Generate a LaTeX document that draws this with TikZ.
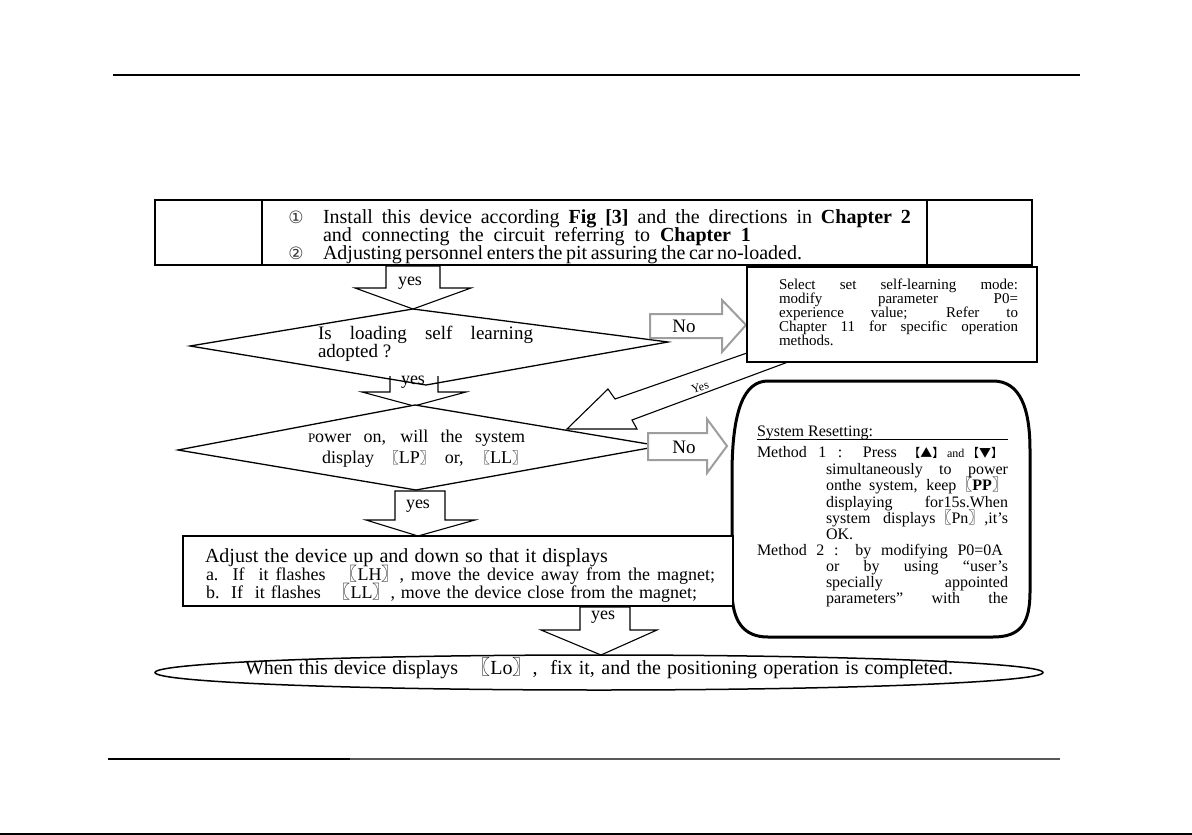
\documentclass[tikz,border=0pt]{standalone}
\usepackage{fontspec}
\setmainfont{Liberation Serif}
\newfontfamily\cjk{Noto Sans CJK SC}
\newfontfamily\dejavu{DejaVu Sans}
\newcommand\myfs[2]{\fontsize{#1}{#2}\selectfont}
\newcommand\jl[2]{\makebox[#1pt][s]{#2}}
\newcommand\lbk{{\cjk 〖}}
\newcommand\rbk{{\cjk 〗}}
\begin{document}
\begin{tikzpicture}[x=1pt,y=-1pt,
  every node/.style={inner sep=0pt,outer sep=0pt},
  tl/.style={anchor=base west},
  tc/.style={anchor=base},
  lab/.style={font=\myfs{18}{18}},
  boxln/.style={draw=black,line width=1.5pt,fill=white},
  barrow/.style={draw=black,line width=1.1pt,fill=white,line join=miter},
  oarrow/.style={draw=black,line width=1.1pt,line join=miter},
  garrow/.style={draw=black!38,line width=2pt,fill=white,line join=miter},
  dia/.style={draw=black,line width=1.3pt,fill=white,line join=miter}]

\useasboundingbox (0,0) rectangle (1192,835);
\fill[white] (0,0) rectangle (1192,835);

% page rules
\coordinate (hl) at (113,75); \coordinate (hr) at (1080,75);
\draw[line width=2pt] (hl) -- (hr);
\coordinate (fl) at (108,759); \coordinate (fm) at (350,759); \coordinate (fr) at (1060,759);
\draw[line width=2.5pt] (fl) -- (fm);
\draw[line width=2.5pt,black!65] (fm) -- (fr);
\coordinate (bl) at (0,834); \coordinate (br) at (1192,834);
\draw[line width=2pt] (bl) -- (br);

% top box
\draw[boxln] (155,200) rectangle (1032,265);
\coordinate (d1a) at (262,200); \coordinate (d1b) at (262,265);
\coordinate (d2a) at (927,200); \coordinate (d2b) at (927,265);
\draw[line width=1.5pt] (d1a) -- (d1b) (d2a) -- (d2b);
\begin{scope}
\clip (156,201) rectangle (1031,264);
\node[tl,font=\myfs{20}{20}] (t1) at (323,223) {\jl{588}{Install this device according \textbf{Fig [3]} and the directions in \textbf{Chapter 2}}};
\node[tl,font=\myfs{20}{20}] (t2) at (323,241) {\jl{428}{and connecting the circuit referring to \textbf{Chapter 1}}};
\node[tl,font=\myfs{20}{20}] (t3) at (323,259) {\jl{479}{Adjusting personnel enters the pit assuring the car no-loaded.}};
\node[font=\dejavu\myfs{17}{17},text=black!80] (c1) at (296,217) {①};
\node[font=\dejavu\myfs{17}{17},text=black!80] (c2) at (296,253) {②};
\end{scope}

% yes arrow 1
\draw[barrow] (386,266) -- (386,288) -- (355,288) -- (413,309) -- (471,288) -- (440,288) -- (440,266) -- cycle;
\node[lab] (y1) at (410,283) {yes};

% diamond 1
\draw[dia] (413,309) -- (668,342) -- (426,385) -- (190,346) -- cycle;
\node[tl,font=\myfs{19}{19}] (q1a) at (318,339) {\jl{215}{Is loading self learning}};
\node[tl,font=\myfs{19}{19}] (q1b) at (318,357) {adopted ?};

% yes arrow 2 (open top, over diamond 1)
\draw[oarrow] (390,376) -- (390,392) -- (362,392) -- (414,406) -- (466,392) -- (438,392) -- (438,376);
\node[lab] (y2) at (413,382) {yes};

% yes arrow 3
\draw[barrow] (395,491) -- (395,520) -- (366,520) -- (418,536) -- (475,520) -- (445,520) -- (445,491) -- cycle;
\node[lab] (y3) at (418,506) {yes};

% diamond 2
\draw[dia] (415,405) -- (660,446) -- (416,490) -- (178,450) -- cycle;
\node[tl,font=\myfs{18}{18}] (q2a) at (308,442) {\jl{217}{{\myfs{13}{13}P}ower on, will the system}};
\node[tl,font=\myfs{18}{18}] (q2b) at (322,463) {\jl{205}{display {\myfs{15}{15}\lbk}LP{\myfs{15}{15}\rbk}\ or, {\myfs{15}{15}\lbk}LL{\myfs{15}{15}\rbk}}};

% No arrows
\draw[garrow] (650,314) -- (722,314) -- (722,300) -- (746,325) -- (722,352) -- (722,338) -- (650,338) -- cycle;
\node[font=\myfs{19}{19}] (n1) at (684,326) {No};
\draw[garrow] (648,433) -- (707,433) -- (707,419) -- (727,446) -- (707,473) -- (707,460) -- (648,460) -- cycle;
\node[font=\myfs{19}{19}] (n2) at (684,447) {No};

% diagonal Yes arrow
\draw[barrow] (747,353) -- (615,399) -- (608,389) -- (567,429) -- (637,429) -- (632,420) -- (788,362) -- cycle;
\node[font=\myfs{12}{12},rotate=17] (ydiag) at (700,387) {Yes};

% select box
\draw[boxln] (747,267) rectangle (1037,362);
\node[tl,font=\myfs{15}{15}] (s1) at (779,289) {\jl{239}{Select set self-learning mode:}};
\node[tl,font=\myfs{15}{15}] (s2) at (779,303) {\jl{239}{modify parameter P0=}};
\node[tl,font=\myfs{15}{15}] (s3) at (779,317) {\jl{239}{experience value; Refer to}};
\node[tl,font=\myfs{15}{15}] (s4) at (779,331) {\jl{239}{Chapter 11 for specific operation}};
\node[tl,font=\myfs{15}{15}] (s5) at (779,345) {methods.};

% system resetting box
\draw[line width=3pt,fill=white] (768,381) -- (993,381)
  .. controls (1020,381) and (1030,408) .. (1030,450) -- (1030,592)
  .. controls (1030,624) and (1020,637) .. (993,637) -- (768,637)
  .. controls (744,637) and (732,622) .. (732,590) -- (732,475)
  .. controls (732,410) and (744,381) .. (768,381) -- cycle;
\node[tl,font=\myfs{16}{16}] (r0) at (757,436) {System Resetting:};
\coordinate (ula) at (757,439); \coordinate (ulb) at (1008,439);
\draw[line width=1pt] (ula) -- (ulb);
\node[tl,font=\myfs{16}{16}] (r1) at (757,457) {\jl{246}{Method 1 : Press {\cjk\myfs{12}{12}【▲】}\,{\myfs{12}{12}and}\,{\cjk\myfs{12}{12}【▼】}}};
\node[tl,font=\myfs{16}{16}] (r2) at (826,474) {\jl{182}{simultaneously to power}};
\node[tl,font=\myfs{16}{16}] (r3) at (826,490) {\jl{182}{onthe system, keep\lbk\textbf{PP}\rbk}};
\node[tl,font=\myfs{16}{16}] (r4) at (826,507) {\jl{182}{displaying for15s.When}};
\node[tl,font=\myfs{16}{16}] (r5) at (826,523) {\jl{182}{system displays\lbk Pn\rbk,it's}};
\node[tl,font=\myfs{16}{16}] (r6) at (826,539) {OK.};
\node[tl,font=\myfs{16}{16}] (r7) at (757,555) {\jl{246}{Method 2 : by modifying P0=0A}};
\node[tl,font=\myfs{16}{16}] (r8) at (826,571) {\jl{182}{or by using “user's}};
\node[tl,font=\myfs{16}{16}] (r9) at (826,587) {\jl{182}{specially appointed}};
\node[tl,font=\myfs{16}{16}] (r10) at (826,603) {\jl{182}{parameters” with the}};

% adjust box
\draw[boxln] (183,536) rectangle (733,606);
\node[tl,font=\myfs{20}{20}] (a0) at (205,562) {\jl{403}{Adjust the device up and down so that it displays}};
\node[tl,font=\myfs{18}{18}] (a1) at (206,580) {\jl{509}{a.\ \ If\ \ it flashes\ \ \lbk LH\rbk, move the device away from the magnet;}};
\node[tl,font=\myfs{18}{18}] (a2) at (206,598) {\jl{491}{b.\ \ If\ \ it flashes\ \ \lbk LL\rbk, move the device close from the magnet;}};

% yes arrow 4
\draw[barrow] (580,607) -- (580,630) -- (541,630) -- (601,655) -- (657,630) -- (630,630) -- (630,607) -- cycle;
\node[lab] (y4) at (603,617) {yes};

% final ellipse
\draw[line width=1.5pt,fill=white] (599,672.5) ellipse [x radius=444pt, y radius=17.5pt];
\node[tl,font=\myfs{20}{20}] (e1) at (245,674) {\jl{708}{When this device displays \ \lbk Lo\rbk, \ fix it, and the positioning operation is completed.}};
\end{tikzpicture}
\end{document}
